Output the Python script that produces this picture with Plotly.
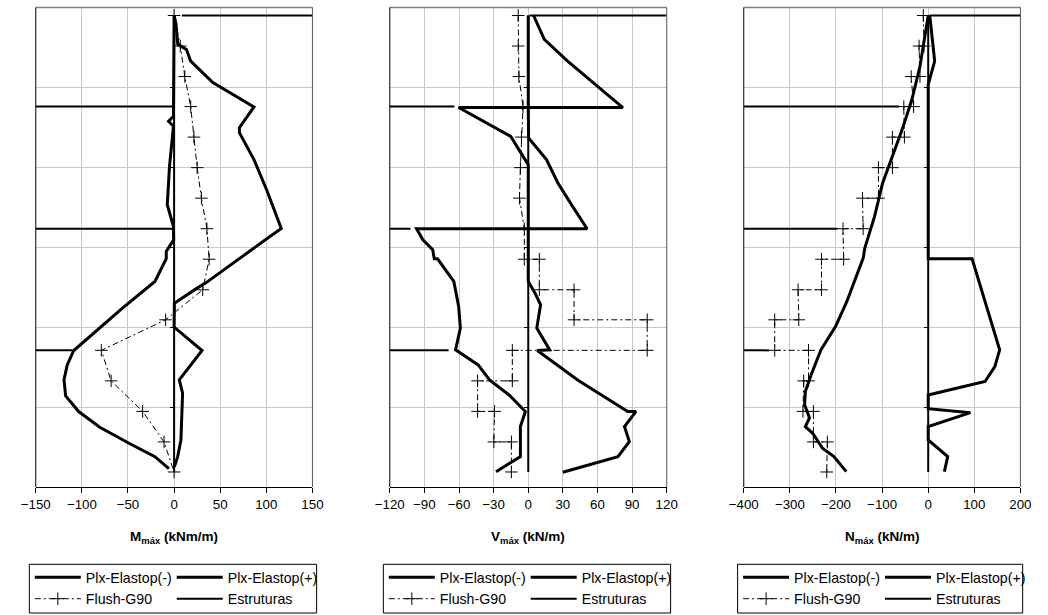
import plotly.graph_objects as go

# ---------------- data (depth in m, values in kN units) ----------------
FLUSH_DEPTH = [0.50, 2.41, 4.32, 6.20, 8.11, 10.02, 11.93, 13.84, 15.75, 17.66, 19.54, 21.45, 23.36, 25.27, 27.18, 29.06]

# Panel 1 : bending moment
M_flush_value = [0, 6.7, 11.6, 18, 21.5, 25, 29.6, 35.6, 38, 31, -9.2, -78.9, -68.3, -34.1, -10.9, 0]
M_pos_depth = [0.5, 1.0, 2.3, 2.63, 3.36, 4.70, 6.22, 7.52, 7.83, 9.52, 11.40, 13.82, 14.53, 17.18, 17.62, 18.50, 20.00, 21.46, 23.30, 24.13, 27.06, 28.10, 28.73]
M_pos_value = [0, 2, 4, 13.4, 18, 42, 86.6, 70.8, 70.8, 86.6, 100.3, 116.2, 99, 35.6, 23.2, 0.3, 0, 30.3, 5.6, 9.2, 7.4, 3.9, 0.3]
M_neg_depth = [0.5, 6.81, 7.12, 7.43, 9.94, 12.34, 13.70, 14.53, 15.26, 15.72, 17.14, 18.81, 21.46, 22.36, 23.30, 24.30, 25.28, 26.26, 27.26, 28.10, 28.85]
M_neg_value = [0, -0.7, -6, -0.7, -5, -7.4, -0.7, -0.5, -8.5, -8.5, -20.8, -56, -108.8, -115.9, -119.4, -117.6, -103.5, -80.6, -48.9, -20.8, -5.6]

# Panel 2 : shear
V_pos_depth = [0.5, 2.0, 3.36, 4.72, 6.26, 6.26, 8.16, 9.52, 10.98, 12.44, 13.84, 13.84, 17.14, 17.87, 18.60, 20.06, 21.42, 21.46, 23.30, 25.28, 25.28, 26.22, 27.16, 28.10, 29.08]
V_pos_value = [4.6, 13.9, 34.1, 56.6, 82, 0, 0.3, 15.8, 25.7, 38.4, 51, 0, 0, 5.9, 10.7, 7.4, 18.6, 7.9, 42.8, 86.2, 93.3, 83.4, 87.6, 77.7, 29.9]
V_neg_depth = [0.5, 6.26, 6.26, 8.06, 8.89, 9.52, 9.83, 13.84, 13.84, 14.53, 15.16, 15.72, 15.72, 17.14, 18.71, 20.06, 21.42, 22.36, 23.30, 24.24, 25.28, 26.22, 28.10, 29.04]
V_neg_value = [0, 0, -60.3, -15.2, -8.1, -2.5, 0, 0, -96.8, -91.3, -82.8, -81.4, -78.6, -64.5, -60.3, -58.8, -63, -43.4, -33.5, -16.6, -2.5, -6.8, -6.8, -27.9]
V_flush_depth = [0.5, 2.41, 4.32, 6.20, 8.11, 10.02, 11.93, 13.84, 15.75, 15.75, 17.66, 17.66, 19.54, 19.54, 21.45, 21.45, 23.36, 23.36, 25.27, 25.27, 27.18, 27.18, 29.06]
V_flush_value = [-8.7, -8.7, -8.1, -4.5, -5.9, -6.8, -7.6, -3.4, -3.4, 9.6, 9.6, 39.7, 39.7, 103.1, 103.1, -13.8, -13.8, -43.9, -43.9, -29.2, -29.8, -14.6, -14.6]

# Panel 3 : axial force
N_pos_depth = [0.5, 3.36, 4.82, 15.72, 15.72, 21.42, 22.47, 23.40, 24.24, 25.10, 25.35, 26.22, 27.06, 28.10, 29.04]
N_pos_value = [3.4, 14, 0, 0, 95.2, 155, 144.5, 123.3, 0, 0, 91.6, 0, 0, 42.3, 35.1]
N_neg_depth = [0.5, 1.80, 3.68, 5.76, 7.64, 9.31, 10.98, 13.07, 15.05, 15.68, 18.39, 19.96, 21.42, 22.98, 24.03, 24.86, 25.68, 26.22, 26.64, 27.58, 28.10, 29.04]
N_neg_value = [0, -7.2, -17.8, -35.3, -56.5, -77.6, -98.8, -116.3, -137.5, -141, -176.4, -201, -232.7, -253.8, -266.5, -268, -257.4, -266.5, -250.4, -229.3, -204.5, -177.7]
N_flush_depth = [0.5, 2.41, 2.41, 4.32, 4.32, 6.20, 6.20, 8.11, 8.11, 10.02, 10.02, 11.93, 11.93, 13.84, 13.84,
                 15.75, 15.75, 17.66, 17.66, 19.54, 19.54, 21.45, 21.45, 23.36, 23.36, 25.27, 25.27, 27.18, 27.18, 29.06]
N_flush_value = [-10.6, -9, -19.8, -17.8, -36.8, -31.7, -52.9, -51.6, -77.6, -77.6, -107.9, -107.9, -142.5, -141.1, -184.8,
                 -183.4, -231.4, -231.4, -282.1, -280.7, -332.9, -332.9, -259.5, -259.5, -270, -271.6, -248.9, -248.9, -218.7, -220]

# Structures: wall (x = 0) and strut levels
WALL_TOP, WALL_BOTTOM = 0.5, 29.06
STRUT_DEPTH = [0.5, 6.20, 13.84, 21.45]
M_strut_from = [8.5, -150, -150, -150]
M_strut_to = [150, 0, 0, -110]
V_strut_from = [1, -120, -120, -120]
V_strut_to = [120, -64, -102, -69]
N_strut_from = [3, -400, -400, -400]
N_strut_to = [200, -63, -197, -345]

X_RANGES = [[-150, 150], [-120, 120], [-400, 200]]
X_DTICKS = [50, 30, 100]
X_TITLES = ["<b>M<sub>máx</sub> (kNm/m)</b>", "<b>V<sub>máx</sub> (kN/m)</b>", "<b>N<sub>máx</sub> (kN/m)</b>"]

# ---------------- layout geometry (pixels) ----------------
W, H = 1048, 615
PANEL_X = [(21.3, 305.0), (384.3, 668.3), (747.3, 1031.0)]
PLOT_TOP, PLOT_BOTTOM = 7.5, 487.0
LEG_BOX = [(14.7, 309.3), (377.7, 672.3), (741.0, 1033.3)]
LEG_TOP, LEG_BOTTOM = 564.3, 613.0


def fx(px):
    return px / W


def fy(py):
    return 1 - py / H


FONT = "Liberation Sans, Arial, sans-serif"

fig = go.Figure()

panels = [
    (M_neg_depth, M_neg_value, M_pos_depth, M_pos_value, FLUSH_DEPTH, M_flush_value, M_strut_from, M_strut_to),
    (V_neg_depth, V_neg_value, V_pos_depth, V_pos_value, V_flush_depth, V_flush_value, V_strut_from, V_strut_to),
    (N_neg_depth, N_neg_value, N_pos_depth, N_pos_value, N_flush_depth, N_flush_value, N_strut_from, N_strut_to),
]

for i, (nd, nv, pd_, pv, fd, fv, sf, st) in enumerate(panels):
    k = i + 1
    xa = "x" if k == 1 else f"x{k}"
    ya = "y" if k == 1 else f"y{k}"
    leg_a = "legend" if k == 1 else f"legend{2 * k - 1}"
    leg_b = f"legend{2 * k}"
    fig.add_trace(go.Scatter(x=nv, y=nd, mode="lines", name="Plx-Elastop(-)",
                             line=dict(color="black", width=3), xaxis=xa, yaxis=ya, legend=leg_a))
    fig.add_trace(go.Scatter(x=pv, y=pd_, mode="lines", name="Plx-Elastop(+)",
                             line=dict(color="black", width=3), xaxis=xa, yaxis=ya, legend=leg_b))
    fig.add_trace(go.Scatter(x=fv, y=fd, mode="lines+markers", name="Flush-G90",
                             line=dict(color="black", width=1, dash="6px,3px,2px,3px"),
                             marker=dict(symbol="cross-thin", size=9, color="black",
                                         line=dict(color="black", width=1)),
                             xaxis=xa, yaxis=ya, legend=leg_a))
    ex, ey = [0, 0, None], [WALL_TOP, WALL_BOTTOM, None]
    for d, a, b in zip(STRUT_DEPTH, sf, st):
        ex += [a, b, None]
        ey += [d, d, None]
    fig.add_trace(go.Scatter(x=ex, y=ey, mode="lines", name="Estruturas",
                             line=dict(color="black", width=2), xaxis=xa, yaxis=ya, legend=leg_b))

layout = dict(
    width=W, height=H, margin=dict(l=0, r=0, t=0, b=0),
    paper_bgcolor="white", plot_bgcolor="white",
    font=dict(family=FONT, color="black", size=13.3),
    shapes=[], annotations=[],
)

for i in range(3):
    k = i + 1
    xname = "xaxis" if k == 1 else f"xaxis{k}"
    yname = "yaxis" if k == 1 else f"yaxis{k}"
    x0, x1 = PANEL_X[i]
    lo, hi = X_RANGES[i]
    zero_px = x0 + (0 - lo) / (hi - lo) * (x1 - x0)
    layout[xname] = dict(
        domain=[fx(x0), fx(x1)], range=X_RANGES[i], dtick=X_DTICKS[i], tick0=0,
        anchor="y" if k == 1 else f"y{k}",
        showgrid=True, gridcolor="#c8c8c8", gridwidth=1, zeroline=False,
        showline=True, linecolor="black", linewidth=1,
        ticks="outside", ticklen=5, tickcolor="black",
        tickfont=dict(family=FONT, size=13.3, color="black"),
        fixedrange=True,
    )
    layout[yname] = dict(
        domain=[fy(PLOT_BOTTOM), fy(PLOT_TOP)], range=[30, 0], dtick=5, tick0=0,
        anchor="free", position=fx(zero_px),
        showgrid=True, gridcolor="#c8c8c8", gridwidth=1, zeroline=False,
        showline=False, ticks="outside", ticklen=4, tickcolor="black",
        showticklabels=False, fixedrange=True,
    )
    # frame
    layout["shapes"] += [
        dict(type="line", xref="paper", yref="paper", x0=fx(x0), x1=fx(x1), y0=fy(PLOT_TOP), y1=fy(PLOT_TOP),
             line=dict(color="#7f7f7f", width=1.5), layer="above"),
        dict(type="line", xref="paper", yref="paper", x0=fx(x1), x1=fx(x1), y0=fy(PLOT_TOP), y1=fy(PLOT_BOTTOM),
             line=dict(color="#555555", width=1), layer="above"),
        dict(type="line", xref="paper", yref="paper", x0=fx(x0), x1=fx(x0), y0=fy(PLOT_TOP), y1=fy(PLOT_BOTTOM),
             line=dict(color="black", width=1), layer="above"),
    ]
    # legend box
    bx0, bx1 = LEG_BOX[i]
    layout["shapes"].append(dict(type="rect", xref="paper", yref="paper",
                                 x0=fx(bx0), x1=fx(bx1), y0=fy(LEG_BOTTOM), y1=fy(LEG_TOP),
                                 line=dict(color="black", width=1), fillcolor="rgba(0,0,0,0)"))
    # axis title
    layout["annotations"].append(dict(text=X_TITLES[i], xref="paper", yref="paper",
                                      x=fx((x0 + x1) / 2), y=fy(537), xanchor="center", yanchor="middle",
                                      showarrow=False, font=dict(family=FONT, size=13.5, color="black")))
    # legends (two columns)
    leg_common = dict(orientation="v", xanchor="left", yanchor="top", y=fy(561.5),
                      bgcolor="rgba(0,0,0,0)", borderwidth=0, itemwidth=46,
                      font=dict(family=FONT, size=14.2, color="black"),
                      itemclick=False, itemdoubleclick=False)
    la = "legend" if k == 1 else f"legend{2 * k - 1}"
    lb = f"legend{2 * k}"
    layout[la] = dict(leg_common, x=fx(bx0 + 0.5))
    layout[lb] = dict(leg_common, x=fx(bx0 + 146))

fig.update_layout(**layout)
fig.write_html(
    "out.html",
    config={"displayModeBar": False},
    post_script="document.body.style.margin='0px';document.body.style.padding='0px';"
                "document.body.style.overflow='hidden';",
)
